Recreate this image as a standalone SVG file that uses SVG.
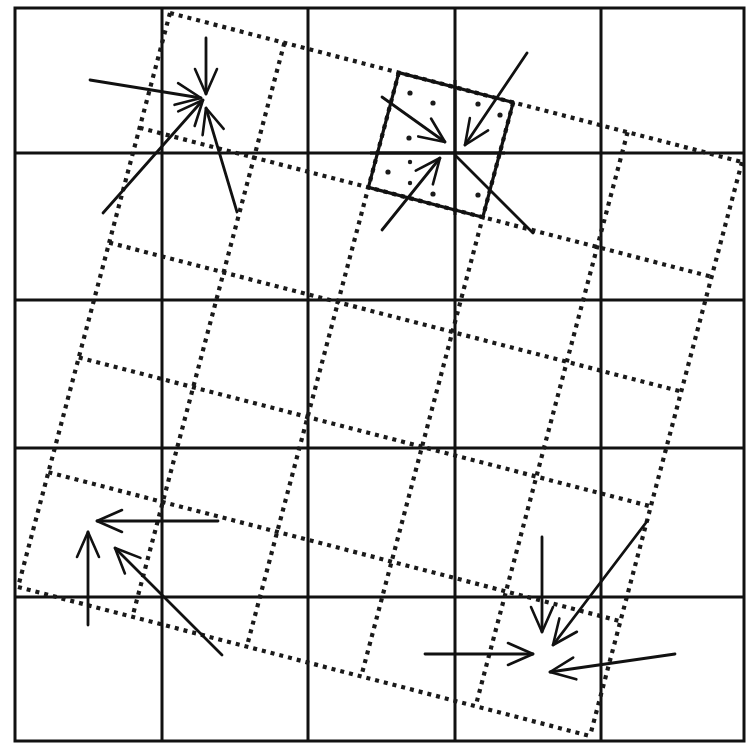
<svg xmlns="http://www.w3.org/2000/svg" width="749" height="745" viewBox="0 0 749 745">
  <style>
    .grid { fill: none; stroke: #111; stroke-width: 3; }
    .dot { fill: none; stroke: #1a1a1a; stroke-width: 4.2; stroke-dasharray: 4 5; }
    .cell { fill: none; stroke: #111; stroke-width: 3.2; stroke-linejoin: round; }
    .arr { fill: none; stroke: #111; stroke-width: 2.8; stroke-linecap: round; }
    .head { marker-end: url(#ah); }
    .spot { fill: #1a1a1a; }
  </style>
  <defs>
    <marker id="ah" viewBox="-28 -14 30 28" markerWidth="30" markerHeight="28" refX="0" refY="0" markerUnits="userSpaceOnUse" orient="auto">
      <path d="M-25,-11 L0,0 L-25,11" fill="none" stroke="#111" stroke-width="2.6" stroke-linecap="round" stroke-linejoin="round"/>
    </marker>
  </defs>
  <rect width="749" height="745" fill="#ffffff"/>

  <g id="solid-grid">
    <rect class="grid" x="15" y="8" width="729" height="733"/>
    <line class="grid" x1="162" y1="8" x2="162" y2="741"/>
    <line class="grid" x1="308" y1="8" x2="308" y2="741"/>
    <line class="grid" x1="455" y1="8" x2="455" y2="741"/>
    <line class="grid" x1="601" y1="8" x2="601" y2="741"/>
    <line class="grid" x1="15" y1="153" x2="744" y2="153"/>
    <line class="grid" x1="15" y1="300" x2="744" y2="300"/>
    <line class="grid" x1="15" y1="448" x2="744" y2="448"/>
    <line class="grid" x1="15" y1="597" x2="744" y2="597"/>
  </g>

  <g id="rotated-grid">
    <line class="dot" x1="170" y1="13" x2="18" y2="587"/>
    <line class="dot" x1="284.4" y1="42.8" x2="132.4" y2="616.8"/>
    <line class="dot" x1="398.8" y1="72.6" x2="246.8" y2="646.6"/>
    <line class="dot" x1="513.2" y1="102.4" x2="361.2" y2="676.4"/>
    <line class="dot" x1="627.6" y1="132.2" x2="475.6" y2="706.2"/>
    <line class="dot" x1="742" y1="162" x2="590" y2="736"/>
    <line class="dot" x1="170" y1="13" x2="742" y2="162"/>
    <line class="dot" x1="139.6" y1="127.8" x2="711.6" y2="276.8"/>
    <line class="dot" x1="109.2" y1="242.6" x2="681.2" y2="391.6"/>
    <line class="dot" x1="78.8" y1="357.4" x2="650.8" y2="506.4"/>
    <line class="dot" x1="48.4" y1="472.2" x2="620.4" y2="621.2"/>
    <line class="dot" x1="18" y1="587" x2="590" y2="736"/>
  </g>

  <g id="highlight-cell">
    <polygon class="cell" points="398.8,72.6 513.2,102.4 482.8,217.2 368.4,187.4" fill="#ffffff"/>
    <circle class="spot" cx="410" cy="93" r="2.6"/>
    <circle class="spot" cx="433" cy="103" r="2.6"/>
    <circle class="spot" cx="478" cy="104" r="2.6"/>
    <circle class="spot" cx="500" cy="115" r="2.6"/>
    <circle class="spot" cx="409" cy="138" r="2.6"/>
    <circle class="spot" cx="410" cy="162" r="2.2"/>
    <circle class="spot" cx="388" cy="172" r="2.6"/>
    <circle class="spot" cx="410" cy="183" r="2.2"/>
    <circle class="spot" cx="433" cy="194" r="2.6"/>
    <circle class="spot" cx="478" cy="195" r="2.6"/>
    <line class="grid" x1="455" y1="80" x2="455" y2="215"/>
    <line class="grid" x1="370" y1="153" x2="505" y2="153"/>
  </g>

  <g id="connectors">
    <g id="cluster-top-left">
      <line class="arr head" x1="90" y1="80" x2="201" y2="98"/>
      <line class="arr head" x1="206" y1="38" x2="206" y2="94"/>
      <line class="arr head" x1="103" y1="213" x2="203" y2="100"/>
      <line class="arr head" x1="237" y1="212" x2="206" y2="108"/>
    </g>
    <g id="cluster-top-middle">
      <line class="arr head" x1="382" y1="97" x2="445" y2="142"/>
      <line class="arr head" x1="527" y1="53" x2="465" y2="145"/>
      <line class="arr head" x1="382" y1="230" x2="440" y2="158"/>
      <line class="arr" x1="456" y1="156" x2="533" y2="233"/>
    </g>
    <g id="cluster-bottom-left">
      <line class="arr head" x1="218" y1="521" x2="97" y2="521"/>
      <line class="arr head" x1="88" y1="625" x2="88" y2="532"/>
      <line class="arr head" x1="222" y1="655" x2="115" y2="548"/>
    </g>
    <g id="cluster-bottom-right">
      <line class="arr head" x1="542" y1="537" x2="542" y2="632"/>
      <line class="arr head" x1="648" y1="520" x2="553" y2="645"/>
      <line class="arr head" x1="425" y1="654" x2="533" y2="654"/>
      <line class="arr head" x1="675" y1="654" x2="550" y2="672"/>
    </g>
  </g>
</svg>
